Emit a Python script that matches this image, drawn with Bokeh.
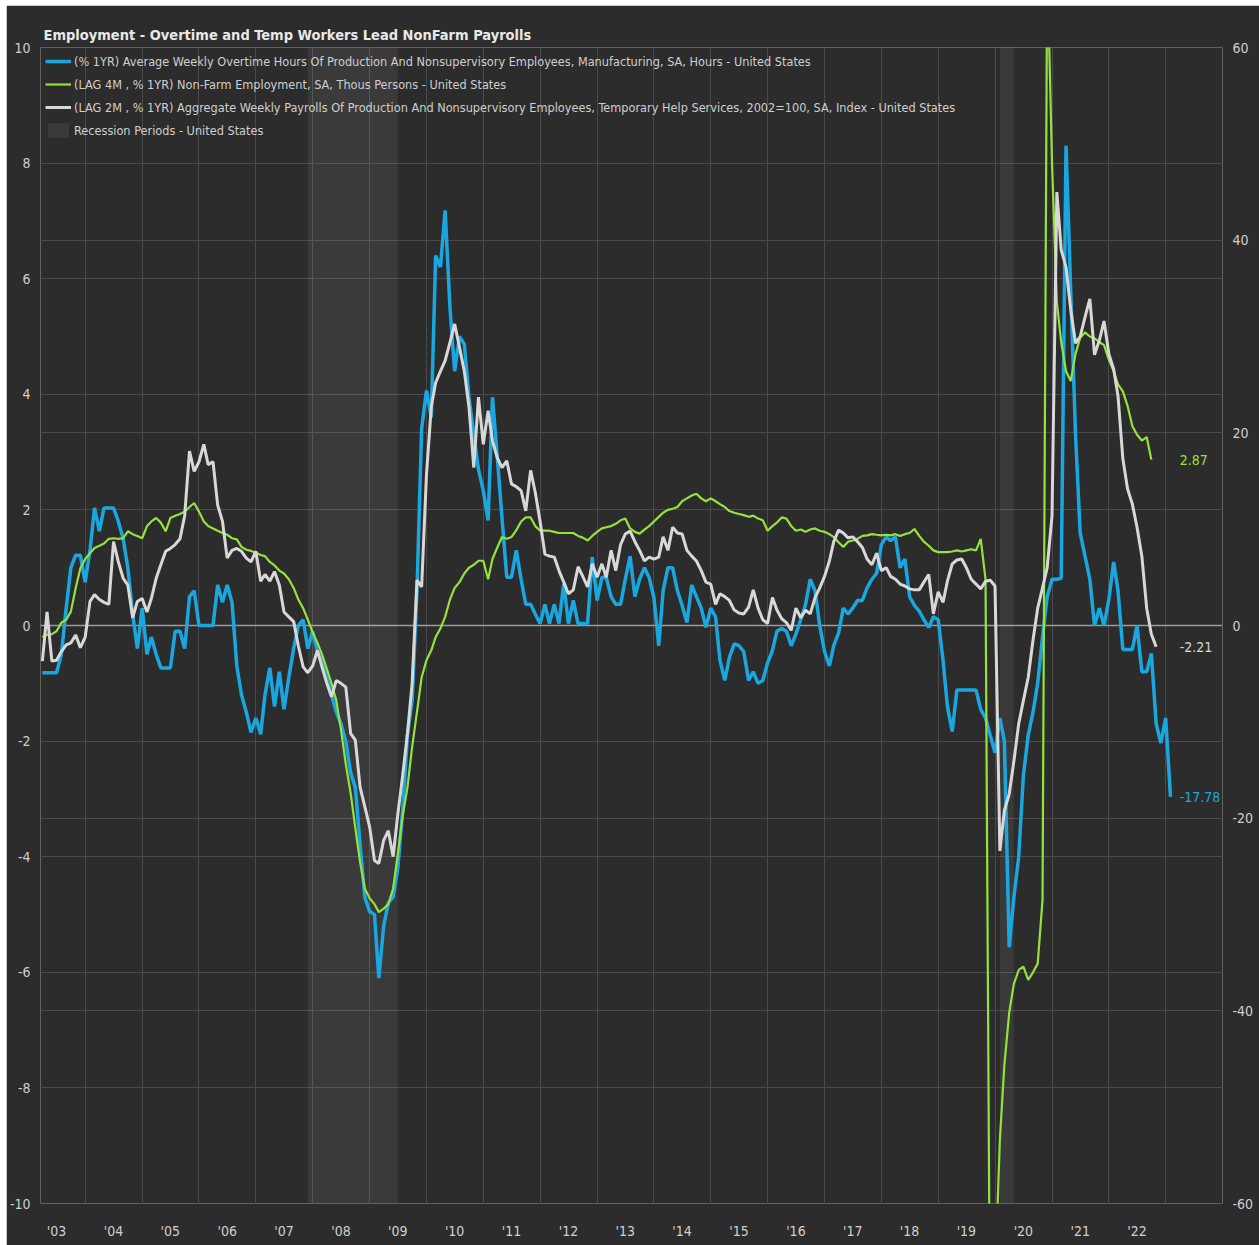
import pandas as pd
from bokeh.plotting import figure
from bokeh.layouts import column, row
from bokeh.models import Range1d, LinearAxis, FixedTicker, Grid, Span, Legend, LegendItem, Spacer
from bokeh.embed import file_html
from bokeh.resources import INLINE
from bokeh.core.properties import value

# ---------------- data (monthly, first month = Apr 2003) ----------------
FIRST_MONTH = "2003-04-01"

# (% 1YR) Average weekly overtime hours, manufacturing  -> right axis
overtime_yoy = [
    -4.9, -4.9, -4.9, -4.9, -3.0, 1.8, 6.0, 7.3, 7.3,
    4.5, 7.8, 12.2, 9.8, 12.2, 12.2, 12.2, 10.8, 9.0, 6.0, 1.2, -2.4,
    1.8, -3.0, -1.2, -3.0, -4.4, -4.4, -4.4, -0.6, -0.6, -2.4, 3.0, 3.6,
    0.0, 0.0, 0.0, 0.0, 4.2, 2.4, 4.2, 2.4, -4.2, -7.2, -9.0, -11.1,
    -9.6, -11.3, -7.2, -4.4, -8.4, -4.8, -8.7, -5.4, -2.4, 0.0, 0.6, -2.4,
    -0.6, -2.7, -3.6, -5.4, -7.2, -9.0, -10.2, -12.0, -15.3, -16.8, -22.8, -28.2,
    -29.7, -30.0, -36.6, -31.2, -28.8, -28.2, -25.2, -19.2, -11.4, -7.8, 3.6, 20.4,
    24.4, 21.6, 38.4, 37.2, 43.1, 33.0, 26.4, 30.0, 29.2, 23.7, 19.8, 16.2,
    14.0, 10.9, 23.7, 17.5, 11.2, 5.0, 5.0, 7.8, 4.8, 2.2, 2.2, 1.2,
    0.2, 2.2, 0.2, 2.2, 0.2, 4.3, 0.2, 2.6, 0.2, 0.2, 0.2, 7.1,
    2.6, 5.0, 5.0, 3.0, 2.2, 2.2, 4.8, 7.2, 3.0, 4.8, 6.0, 5.0,
    2.9, -2.1, 3.6, 6.0, 6.0, 3.6, 2.1, 0.3, 4.2, 3.0, 1.8, -0.2,
    1.8, 0.9, -3.6, -5.7, -3.3, -1.9, -2.1, -2.7, -5.7, -4.8, -6.0, -5.7,
    -3.9, -2.6, -0.6, -0.3, -0.6, -2.1, -0.9, 0.6, 2.2, 4.8, 3.6, 0.0,
    -2.7, -4.2, -2.1, -0.8, 1.8, 1.2, 1.8, 2.6, 2.6, 3.9, 4.8, 5.4,
    8.4, 9.2, 8.8, 9.2, 6.0, 6.9, 3.0, 2.1, 1.5, 0.6, -0.2, 0.9,
    0.6, -3.6, -8.4, -11.0, -6.7, -6.7, -6.7, -6.7, -6.7, -8.7, -9.6, -11.4,
    -13.2, -9.6, -12.0, -33.4, -28.2, -24.0, -15.6, -11.4, -9.0, -6.0, -1.2, 3.0,
    4.8, 4.8, 4.9, 49.8, 34.8, 19.8, 9.6, 7.2, 4.8, 0.0, 1.8, 0.0,
    2.7, 6.6, 3.6, -2.5, -2.5, -2.5, 0.0, -4.8, -4.8, -2.9, -10.2, -12.2,
    -9.6, -17.78,
]

# (LAG 4M, % 1YR) Non-farm employment -> left axis
nonfarm_lag4 = [
    -0.2, -0.16, -0.15, -0.1, 0.05, 0.1, 0.24, 0.65, 0.99,
    1.15, 1.25, 1.34, 1.38, 1.42, 1.5, 1.51, 1.5, 1.51, 1.63, 1.58, 1.55,
    1.51, 1.72, 1.8, 1.86, 1.78, 1.63, 1.86, 1.9, 1.93, 1.97, 2.05, 2.12,
    1.97, 1.8, 1.72, 1.68, 1.64, 1.6, 1.57, 1.51, 1.49, 1.36, 1.31, 1.29,
    1.26, 1.22, 1.2, 1.1, 1.04, 0.95, 0.9, 0.8, 0.65, 0.45, 0.3, 0.1,
    -0.12, -0.3, -0.5, -0.75, -1.0, -1.3, -1.8, -2.4, -2.9, -3.5, -4.1, -4.55,
    -4.72, -4.82, -4.96, -4.9, -4.82, -4.55, -3.95, -3.3, -2.8, -2.1, -1.5, -0.9,
    -0.6, -0.43, -0.2, -0.05, 0.15, 0.45, 0.65, 0.75, 0.9, 1.0, 1.05, 1.12,
    1.12, 0.8, 1.15, 1.35, 1.53, 1.5, 1.53, 1.65, 1.8, 1.87, 1.87, 1.72,
    1.64, 1.64, 1.64, 1.62, 1.6, 1.6, 1.6, 1.6, 1.55, 1.52, 1.47, 1.55,
    1.62, 1.68, 1.7, 1.72, 1.76, 1.82, 1.85, 1.68, 1.62, 1.59, 1.66, 1.72,
    1.8, 1.88, 1.95, 2.0, 2.02, 2.05, 2.15, 2.2, 2.25, 2.28, 2.2, 2.15,
    2.2, 2.15, 2.1, 2.05, 1.98, 1.95, 1.93, 1.91, 1.88, 1.9, 1.85, 1.82,
    1.64, 1.72, 1.78, 1.87, 1.85, 1.72, 1.64, 1.66, 1.62, 1.66, 1.68, 1.64,
    1.62, 1.58, 1.53, 1.44, 1.36, 1.45, 1.47, 1.5, 1.55, 1.56, 1.58, 1.57,
    1.56, 1.57, 1.56, 1.58, 1.55, 1.58, 1.6, 1.67, 1.55, 1.45, 1.38, 1.3,
    1.27, 1.27, 1.27, 1.28, 1.3, 1.28, 1.3, 1.32, 1.3, 1.5, 0.8, -13.0,
    -11.3, -8.9, -7.6, -6.7, -6.2, -5.96, -5.9, -6.13, -6.0, -5.85, -4.75, 11.5,
    8.0, 5.6, 4.9, 4.4, 4.23, 4.7, 4.98, 5.07, 5.0, 4.97, 4.9, 4.85,
    4.6, 4.4, 4.17, 4.05, 3.8, 3.45, 3.3, 3.2, 3.26, 2.87,
]

# (LAG 2M, % 1YR) Aggregate weekly payrolls, temporary help services -> right axis
temp_payrolls_lag2 = [
    -3.7, 1.4, -3.7, -3.6, -2.7, -2.0, -1.8, -1.0, -2.3,
    -1.2, 2.5, 3.2, 2.7, 2.4, 2.2, 8.7, 6.6, 4.9, 4.2, 0.8, 2.5,
    2.8, 1.4, 2.8, 4.9, 6.3, 7.7, 8.0, 8.4, 9.0, 11.4, 18.1, 16.0,
    17.0, 18.8, 16.7, 17.0, 12.5, 10.8, 7.0, 7.8, 8.0, 7.7, 7.0, 6.6,
    7.7, 4.6, 5.3, 4.6, 5.6, 4.2, 1.4, 0.9, 0.4, -2.1, -4.3, -4.9,
    -4.2, -2.6, -4.3, -6.0, -7.4, -5.7, -6.0, -6.4, -11.2, -11.9, -16.8, -18.8,
    -20.9, -24.4, -24.7, -22.3, -21.3, -24.0, -19.6, -15.6, -11.2, -6.0, 4.7, 4.0,
    15.6, 22.7, 25.2, 26.4, 27.5, 29.4, 31.3, 28.9, 26.4, 22.7, 16.4, 23.7,
    18.8, 22.3, 19.2, 17.4, 16.4, 17.1, 14.7, 14.4, 14.0, 11.9, 16.1, 13.8,
    10.8, 7.4, 7.2, 7.1, 5.7, 4.5, 3.3, 3.7, 6.1, 5.1, 4.0, 6.4,
    5.0, 6.4, 5.0, 7.8, 5.7, 8.4, 9.5, 9.8, 8.7, 7.8, 6.7, 7.1,
    6.9, 7.1, 9.2, 7.8, 10.2, 9.6, 9.5, 7.8, 7.2, 6.7, 5.7, 4.5,
    4.3, 2.2, 3.3, 3.0, 2.6, 1.6, 1.3, 1.2, 1.9, 3.7, 1.8, 0.6,
    0.2, 2.9, 1.6, 0.7, 0.3, -0.5, 1.8, 0.8, 1.6, 1.2, 2.9, 3.9,
    5.1, 6.7, 8.7, 9.9, 9.6, 9.1, 9.2, 8.7, 8.1, 6.9, 6.3, 7.5,
    5.7, 6.0, 5.1, 4.8, 4.3, 4.1, 3.8, 3.7, 3.7, 4.5, 5.3, 1.2,
    3.5, 2.4, 4.6, 6.4, 6.8, 6.9, 6.0, 4.8, 4.3, 3.8, 4.6, 4.7,
    4.1, -23.4, -19.2, -17.5, -14.1, -10.2, -7.8, -5.4, -1.5, 1.8, 3.9, 6.0,
    11.4, 45.0, 39.0, 37.2, 32.8, 29.3, 30.0, 32.0, 33.9, 28.1, 29.6, 31.6,
    28.2, 26.6, 23.8, 17.3, 14.2, 12.6, 10.2, 7.2, 1.8, -0.9, -2.21,
]

recession_start = ["2007-12-01", "2020-02-01"]
recession_end = ["2009-06-30", "2020-04-30"]

label_years = list(range(2003, 2023))
year_labels = ["'%02d" % (y % 100) for y in label_years]
left_ticks = [-10, -8, -6, -4, -2, 0, 2, 4, 6, 8, 10]
right_ticks = [-60, -40, -20, 0, 20, 40, 60]

legend_labels = [
    "(% 1YR) Average Weekly Overtime Hours Of Production And Nonsupervisory Employees, Manufacturing, SA, Hours - United States",
    "(LAG 4M , % 1YR) Non-Farm Employment, SA, Thous Persons - United States",
    "(LAG 2M , % 1YR) Aggregate Weekly Payrolls Of Production And Nonsupervisory Employees, Temporary Help Services, 2002=100, SA, Index - United States",
    "Recession Periods - United States",
]
title_text = "Employment - Overtime and Temp Workers Lead NonFarm Payrolls"

# ---------------- styling ----------------
FONT = "'DejaVu Sans Condensed', 'Liberation Sans', sans-serif"
BG = "#2c2c2c"
GRID = "#4a4a4a"
TXT = "#cfcfcf"
BLUE = "#1aa7e0"
GREEN = "#95e23a"
WHITE = "#d8d8d8"

def months(n):
    return pd.date_range(FIRST_MONTH, periods=n, freq="MS")

def ms(ts):
    return (pd.Timestamp(ts) - pd.Timestamp("1970-01-01")) // pd.Timedelta(milliseconds=1)

p = figure(
    width=1253, height=1240,
    x_axis_type="datetime",
    x_range=Range1d(pd.Timestamp("2003-03-20"), pd.Timestamp("2024-01-01")),
    y_range=Range1d(-10, 10),
    output_backend="svg", toolbar_location=None,
    background_fill_color=BG, border_fill_color=BG,
    min_border_left=34, min_border_right=37, min_border_top=42, min_border_bottom=42,
    outline_line_color=None,
)
p.extra_y_ranges = {"right": Range1d(-60, 60)}

# title
p.title.text = title_text
p.title.text_font = FONT
p.title.text_font_size = "14.5px"
p.title.text_font_style = "bold"
p.title.text_color = "#e8e8e8"
p.title.align = "left"
p.title.offset = 3

# left axis
p.yaxis.ticker = FixedTicker(ticks=left_ticks)
p.yaxis.major_label_overrides = {t: str(t) for t in left_ticks}
for ax in p.yaxis:
    ax.major_tick_line_color = None
    ax.major_tick_out = 0
    ax.major_tick_in = 0
    ax.minor_tick_line_color = None
    ax.axis_line_color = None
    ax.major_label_text_color = TXT
    ax.major_label_text_font = FONT
    ax.major_label_text_font_size = "14px"
    ax.major_label_standoff = 10

# right axis
rax = LinearAxis(y_range_name="right", ticker=FixedTicker(ticks=right_ticks),
                 major_label_overrides={t: str(t) for t in right_ticks},
                 major_tick_line_color=None, major_tick_out=0, major_tick_in=0,
                 minor_tick_line_color=None, axis_line_color=None,
                 major_label_text_color=TXT, major_label_text_font=FONT,
                 major_label_text_font_size="14px", major_label_standoff=10)
p.add_layout(rax, "right")

# x axis: labels mid-year, grid lines at year starts
mid_ticks = [ms(f"{y}-07-01") for y in label_years]
p.xaxis.ticker = FixedTicker(ticks=mid_ticks)
p.xaxis.major_label_overrides = {t: lab for t, lab in zip(mid_ticks, year_labels)}
p.xaxis.major_tick_line_color = None
p.xaxis.major_tick_out = 0
p.xaxis.major_tick_in = 0
p.xaxis.minor_tick_line_color = None
p.xaxis.axis_line_color = None
p.xaxis.major_label_text_color = TXT
p.xaxis.major_label_text_font = FONT
p.xaxis.major_label_text_font_size = "14px"
p.xaxis.major_label_standoff = 19

p.xgrid.ticker = FixedTicker(ticks=[ms(f"{y}-01-01") for y in range(2004, 2025)])
p.xgrid.grid_line_color = GRID
p.ygrid.grid_line_color = GRID
rgrid = Grid(dimension=1, ticker=rax.ticker, y_range_name="right", grid_line_color=GRID)
p.add_layout(rgrid)

zero = Span(location=0, dimension="width", line_color="#9c9c9c", line_width=1.5, level="underlay")
p.add_layout(zero)

# recessions
r_rec = p.quad(left=pd.to_datetime(recession_start), right=pd.to_datetime(recession_end),
               bottom=-10, top=10, fill_color="white", fill_alpha=0.07, line_color=None)

# series
r_blue = p.line(months(len(overtime_yoy)), overtime_yoy, y_range_name="right",
                line_color=BLUE, line_width=3.5)
r_green = p.line(months(len(nonfarm_lag4)), nonfarm_lag4,
                 line_color=GREEN, line_width=2.2)
r_white = p.line(months(len(temp_payrolls_lag2)), temp_payrolls_lag2, y_range_name="right",
                 line_color=WHITE, line_width=3)

# end-value labels
label_x = pd.Timestamp("2023-04-01")
p.text(x=[label_x], y=[nonfarm_lag4[-1]], text=["%.2f" % nonfarm_lag4[-1]],
       text_color=GREEN, text_font=value(FONT), text_font_size="14px",
       text_baseline="middle", text_align="left")
p.text(x=[label_x, label_x], y=[temp_payrolls_lag2[-1], overtime_yoy[-1]],
       text=["%.2f" % temp_payrolls_lag2[-1], "%.2f" % overtime_yoy[-1]],
       text_color=[WHITE, BLUE], text_font=value(FONT), text_font_size="14px",
       text_baseline="middle", text_align="left", y_range_name="right")

legend = Legend(items=[
    LegendItem(label=legend_labels[0], renderers=[r_blue]),
    LegendItem(label=legend_labels[1], renderers=[r_green]),
    LegendItem(label=legend_labels[2], renderers=[r_white]),
    LegendItem(label=legend_labels[3], renderers=[r_rec]),
], location="top_left")
legend.background_fill_alpha = 0
legend.border_line_alpha = 0
legend.label_text_color = TXT
legend.label_text_font = FONT
legend.label_text_font_size = "12.6px"
legend.glyph_width = 26
legend.glyph_height = 18
legend.label_height = 18
legend.spacing = 5
legend.padding = 2
legend.margin = 3
legend.label_standoff = 3
p.add_layout(legend)

layout = column(Spacer(height=5), row(Spacer(width=6), p))
open("out.html", "w").write(file_html(layout, INLINE))
